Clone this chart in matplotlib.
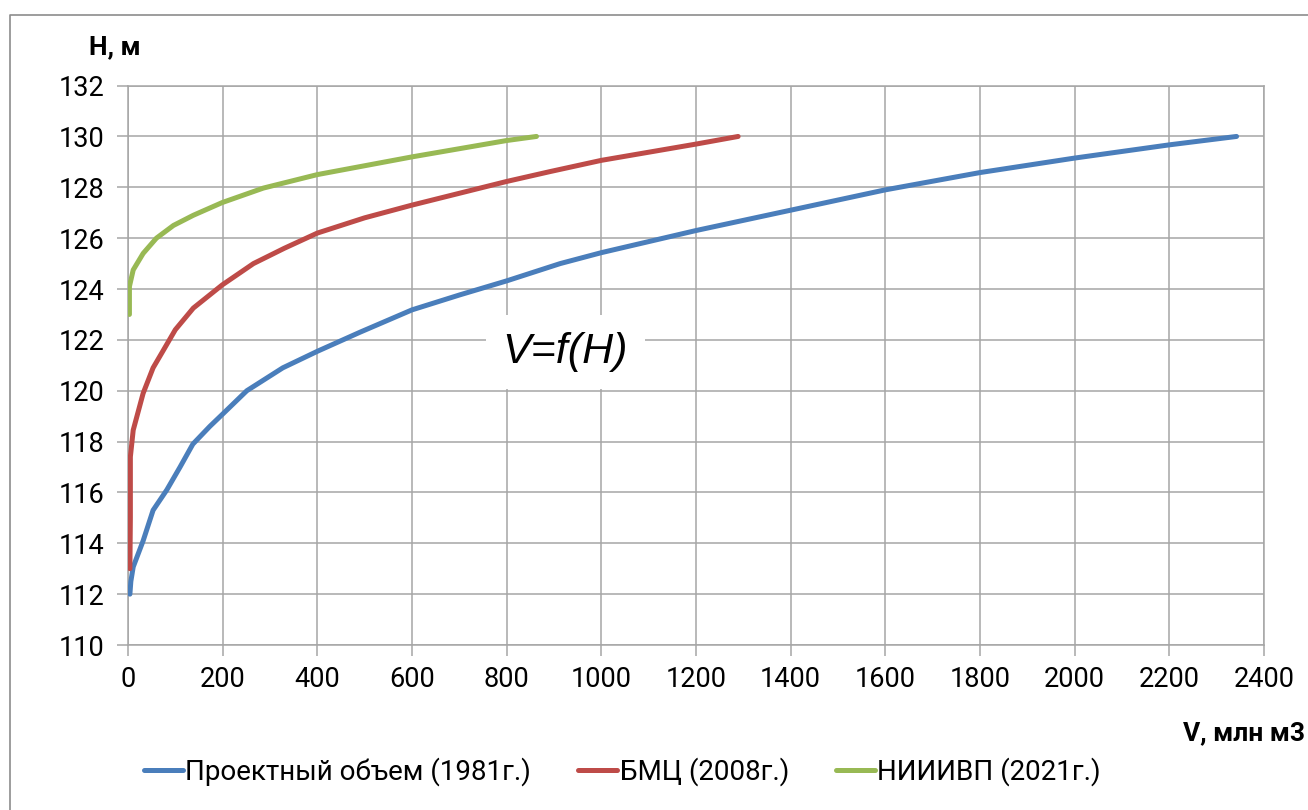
import numpy as np
import matplotlib.pyplot as plt
from matplotlib.lines import Line2D

# Данные кривых объемов V=f(H)
blue_v = [4, 6, 11, 32, 53, 82, 110, 137, 173, 201, 251, 327, 400, 490, 600,
          701, 800, 913, 1000, 1200, 1400, 1600, 1800, 2000, 2200, 2342]
blue_h = [112, 112.5, 113.07, 114.1, 115.3, 116.1, 117.0, 117.9, 118.6, 119.1,
          120.0, 120.9, 121.55, 122.3, 123.18, 123.77, 124.32, 125.0, 125.43,
          126.3, 127.1, 127.9, 128.58, 129.15, 129.67, 130]

red_v = [4, 5, 5, 11, 32, 53, 75, 100, 138, 199, 265, 330, 400, 500, 600,
         800, 892, 1000, 1200, 1289]
red_h = [113, 115, 117.4, 118.45, 119.9, 120.9, 121.6, 122.4, 123.25, 124.16,
         125.0, 125.6, 126.2, 126.8, 127.3, 128.23, 128.62, 129.06, 129.7, 130]

green_v = [3, 3, 11, 32, 60, 96, 138, 199, 286, 400, 601, 800, 863]
green_h = [123.0, 124.1, 124.75, 125.4, 126.0, 126.5, 126.9, 127.4, 127.97,
           128.5, 129.2, 129.84, 130]

labels = ['Проектный объем (1981г.)', 'БМЦ (2008г.)', 'НИИИВП (2021г.)']
colors = ['#4A7EBB', '#BE4B48', '#98B954']

x_ticks = list(range(0, 2401, 200))
y_ticks = list(range(110, 133, 2))

plt.rcParams['font.family'] = ['Roboto', 'DejaVu Sans']

fig = plt.figure(figsize=(13.08, 8.10), dpi=100)
ax = fig.add_axes([128 / 1308, 1 - 645 / 810, (1264 - 128) / 1308, (645 - 85.6) / 810])

# рамка диаграммы (видны верхняя и левая стороны)
fig.lines.append(Line2D([10 / 1308, 10 / 1308, 1.0], [0.0, 1 - 15 / 810, 1 - 15 / 810],
                        transform=fig.transFigure, color='#8c8c8c', linewidth=1.2))

series = [(blue_v, blue_h), (red_v, red_h), (green_v, green_h)]
for (v, h), lab, c in zip(series, labels, colors):
    ax.plot(v, h, color=c, linewidth=3.6, label=lab,
            solid_capstyle='round', solid_joinstyle='round', zorder=3)

ax.set_xlim(0, 2400)
ax.set_ylim(110, 132)
ax.set_xticks(x_ticks)
ax.set_yticks(y_ticks)
ax.grid(True, color='#a6a6a6', linewidth=1.1)
ax.set_axisbelow(True)
for s in ax.spines.values():
    s.set_color('#a6a6a6')
    s.set_linewidth(1.1)
ax.tick_params(axis='both', colors='#a6a6a6', labelcolor='black',
               labelsize=19.5, length=8, width=1.1)
ax.tick_params(axis='x', pad=7)
ax.tick_params(axis='y', pad=9)

fig.text(115 / 1308, 1 - 47 / 810, 'H, м', fontsize=19, fontweight='bold',
         ha='center', va='center')
fig.text(1305 / 1308, 1 - 733 / 810, 'V, млн м3', fontsize=19,
         fontweight='bold', ha='right', va='center')

ax.text(0.385, 0.524, 'V=f(H)', transform=ax.transAxes, fontsize=31,
        style='italic', family='Liberation Sans', ha='center', va='center',
        bbox=dict(facecolor='white', edgecolor='none', pad=12), zorder=4)

fig.legend(loc='center', bbox_to_anchor=(0.476, 1 - 772 / 810), ncol=3,
           frameon=False, fontsize=20, handlelength=1.4,
           handletextpad=0.08, columnspacing=1.7)

fig.savefig('out.png', dpi=100)
